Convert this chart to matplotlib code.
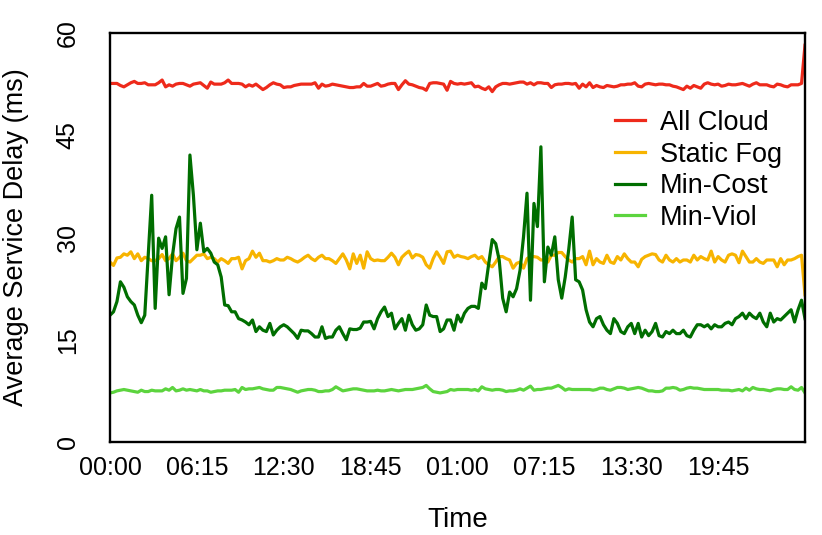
import matplotlib
matplotlib.use("Agg")
import matplotlib.pyplot as plt
import numpy as np

plt.rcParams['font.family'] = ['Liberation Sans', 'DejaVu Sans']

tick_labels = ["00:00", "06:15", "12:30", "18:45", "01:00", "07:15", "13:30", "19:45"]
tick_steps = [0, 25, 50, 75, 100, 125, 150, 175]

all_cloud = [
    52.6, 52.6, 52.6, 52.3, 52.1, 52.4, 52.7, 52.9, 52.6, 52.6,
    52.7, 52.4, 52.4, 52.4, 52.7, 53.1, 52.1, 52.4, 52.2, 52.5,
    52.6, 52.6, 52.4, 52.2, 52.5, 52.6, 52.7, 52.3, 51.9, 52.8,
    52.5, 52.5, 52.5, 52.7, 53.1, 52.6, 52.6, 52.6, 52.5, 52.1,
    52.4, 52.2, 52.5, 52.1, 51.7, 52.0, 52.4, 52.7, 52.5, 52.4,
    52.0, 52.1, 52.1, 52.3, 52.4, 52.5, 52.5, 52.5, 52.5, 52.7,
    51.9, 52.5, 52.2, 52.3, 52.5, 52.4, 52.3, 52.2, 52.1, 52.0,
    52.0, 52.1, 52.1, 52.6, 52.2, 52.2, 52.4, 52.6, 52.2, 52.3,
    52.5, 52.6, 52.6, 51.7, 52.4, 53.0, 52.5, 52.4, 52.2, 52.0,
    51.9, 51.6, 52.6, 52.7, 52.7, 52.6, 52.5, 51.6, 52.9, 52.6,
    52.5, 52.6, 52.5, 52.6, 52.7, 52.1, 52.2, 51.9, 51.7, 52.1,
    51.4, 52.1, 52.4, 52.6, 52.6, 52.5, 52.6, 52.7, 52.8, 52.8,
    52.5, 52.7, 52.4, 52.7, 52.7, 52.6, 52.6, 52.0, 52.4, 52.5,
    52.5, 52.6, 52.6, 52.5, 52.6, 51.9, 52.5, 52.1, 52.7, 52.0,
    52.3, 52.1, 52.0, 52.3, 52.2, 52.1, 52.2, 52.4, 52.4, 52.5,
    52.5, 52.7, 52.2, 52.1, 52.5, 52.6, 52.5, 52.4, 52.5, 52.5,
    52.4, 52.4, 52.2, 52.1, 51.9, 51.7, 52.2, 51.9, 52.3, 52.1,
    51.9, 52.5, 52.7, 52.5, 52.4, 52.5, 52.2, 52.3, 52.5, 52.4,
    52.4, 52.5, 52.6, 52.4, 52.2, 52.5, 52.7, 52.4, 52.4, 52.4,
    52.2, 52.1, 52.5, 52.4, 52.2, 52.1, 52.4, 52.4, 52.4, 52.6,
    58.2,
]

static_fog = [
    26.4, 25.9, 27.0, 27.1, 27.6, 27.4, 27.9, 26.9, 27.6, 26.6,
    27.1, 26.9, 26.6, 26.6, 26.9, 27.5, 26.6, 26.9, 27.6, 26.6,
    27.1, 27.7, 26.6, 26.4, 26.9, 27.4, 27.4, 27.6, 26.9, 27.1,
    26.9, 26.4, 26.9, 26.6, 26.2, 26.9, 26.9, 27.1, 25.4, 26.6,
    26.9, 28.0, 27.1, 27.7, 26.6, 26.6, 26.4, 26.6, 26.9, 26.7,
    26.7, 27.1, 26.9, 26.6, 26.4, 26.7, 27.1, 27.4, 26.9, 26.6,
    27.1, 27.4, 26.9, 26.9, 26.6, 26.2, 26.9, 27.6, 26.7, 25.4,
    27.6, 26.2, 27.4, 25.5, 27.9, 26.9, 26.6, 26.7, 26.6, 26.6,
    27.1, 27.7, 27.1, 26.0, 27.1, 27.6, 28.0, 27.0, 27.5, 27.4,
    27.1, 26.0, 25.5, 26.9, 27.9, 27.1, 26.2, 27.9, 28.0, 27.1,
    27.4, 27.2, 27.1, 26.9, 27.2, 27.4, 26.9, 27.2, 26.4, 26.0,
    25.7, 26.4, 27.2, 27.2, 26.9, 26.7, 25.5, 26.2, 26.4, 25.5,
    26.9, 27.2, 27.2, 27.1, 26.7, 26.7, 26.4, 27.4, 27.4, 27.8,
    27.8, 27.2, 26.7, 26.4, 26.9, 26.9, 27.2, 26.0, 28.0, 26.0,
    26.9, 26.4, 26.2, 27.4, 26.4, 26.2, 27.2, 26.7, 27.6, 26.9,
    26.4, 26.4, 25.7, 26.8, 27.2, 27.4, 27.6, 27.5, 26.7, 26.4,
    27.4, 26.7, 26.4, 26.9, 26.4, 26.7, 26.7, 26.4, 27.4, 26.7,
    27.2, 26.9, 26.7, 28.0, 26.4, 27.2, 26.7, 26.4, 27.4, 27.6,
    27.4, 26.3, 28.0, 27.2, 26.4, 26.4, 26.9, 26.4, 26.2, 26.7,
    26.7, 26.7, 25.7, 26.9, 26.0, 26.7, 26.7, 26.9, 27.2, 27.4,
    21.6,
]

min_cost = [
    18.6, 19.1, 20.6, 23.5, 22.7, 21.3, 20.6, 20.1, 18.6, 17.5,
    18.6, 27.4, 36.2, 19.6, 29.9, 28.4, 30.1, 21.6, 27.4, 31.3,
    33.0, 21.8, 24.0, 42.1, 36.2, 28.2, 32.1, 27.9, 28.4, 27.7,
    26.4, 26.0, 24.2, 20.1, 20.0, 19.1, 19.1, 18.1, 17.9, 17.6,
    17.2, 17.9, 16.2, 16.9, 16.4, 16.2, 17.4, 15.7, 16.4, 16.9,
    17.2, 16.9, 16.4, 15.9, 15.2, 16.4, 16.3, 16.3, 15.9, 15.4,
    15.4, 16.9, 15.2, 15.4, 15.4, 16.4, 16.9, 15.9, 15.0, 16.6,
    16.5, 16.5, 16.7, 17.6, 17.6, 17.7, 16.6, 18.1, 19.1, 19.8,
    18.4, 18.9, 16.6, 17.4, 18.1, 16.4, 18.6, 17.2, 16.4, 16.6,
    17.2, 20.1, 18.6, 18.4, 18.4, 16.2, 16.6, 17.9, 17.9, 16.4,
    18.6, 17.6, 18.9, 19.6, 19.9, 19.9, 19.6, 23.3, 22.5, 26.2,
    29.7, 29.1, 26.7, 21.1, 19.1, 22.0, 21.3, 22.5, 25.2, 30.1,
    36.5, 20.8, 35.0, 31.6, 43.3, 23.5, 28.6, 27.4, 30.1, 23.8,
    21.1, 24.2, 28.2, 33.0, 23.8, 23.5, 22.3, 19.4, 17.6, 16.9,
    18.1, 18.4, 17.2, 16.4, 15.9, 18.1, 17.4, 16.2, 15.9, 16.9,
    17.4, 15.9, 17.4, 15.4, 16.4, 15.6, 16.2, 17.4, 15.6, 15.4,
    16.2, 15.9, 16.4, 15.9, 15.9, 16.4, 15.6, 15.4, 16.4, 17.2,
    17.2, 16.9, 17.2, 16.6, 17.2, 16.9, 16.9, 17.4, 17.6, 17.2,
    18.1, 18.4, 18.9, 18.1, 18.9, 18.4, 18.1, 18.9, 17.6, 16.9,
    18.9, 17.6, 18.1, 17.9, 18.4, 18.9, 19.4, 17.6, 19.4, 20.8,
    18.1,
]

min_viol = [
    7.2, 7.3, 7.5, 7.6, 7.7, 7.6, 7.5, 7.4, 7.3, 7.6,
    7.4, 7.4, 7.6, 7.5, 7.5, 7.5, 7.8, 7.6, 8.0, 7.5,
    7.6, 7.8, 7.6, 7.7, 7.6, 7.5, 7.7, 7.5, 7.5, 7.3,
    7.4, 7.5, 7.5, 7.6, 7.6, 7.6, 7.7, 7.3, 8.0, 7.7,
    7.8, 7.8, 7.9, 8.0, 7.8, 7.7, 7.6, 7.6, 8.0, 8.0,
    7.9, 7.8, 7.7, 7.5, 7.3, 7.5, 7.6, 7.7, 7.7, 7.6,
    7.4, 7.4, 7.5, 7.5, 7.7, 8.1, 7.8, 7.5, 7.6, 7.7,
    7.8, 7.8, 7.7, 7.6, 7.5, 7.5, 7.5, 7.6, 7.5, 7.5,
    7.6, 7.7, 7.6, 7.5, 7.6, 7.7, 7.7, 7.7, 7.8, 7.9,
    8.0, 8.3, 7.8, 7.4, 7.3, 7.2, 7.3, 7.4, 7.7, 7.6,
    7.7, 7.7, 7.7, 7.7, 7.6, 7.7, 7.5, 8.1, 7.8, 7.7,
    7.6, 7.7, 7.7, 7.6, 7.4, 7.5, 7.5, 7.6, 7.8, 7.6,
    7.9, 8.2, 7.6, 7.7, 7.7, 7.8, 7.9, 7.9, 8.1, 8.3,
    8.0, 7.6, 7.8, 7.7, 7.7, 7.7, 7.7, 7.7, 7.7, 7.6,
    7.7, 7.9, 7.9, 7.7, 7.6, 7.8, 8.0, 8.0, 7.9, 7.7,
    7.8, 7.9, 8.0, 7.9, 7.7, 7.5, 7.5, 7.4, 7.4, 7.5,
    7.9, 7.9, 8.0, 7.9, 7.6, 7.7, 7.9, 8.0, 7.9, 7.9,
    7.8, 7.7, 7.7, 7.7, 7.7, 7.7, 7.6, 7.6, 7.6, 7.5,
    7.6, 7.7, 7.5, 7.9, 7.6, 8.0, 7.8, 7.7, 7.7, 7.6,
    7.5, 7.7, 7.8, 7.8, 7.7, 7.7, 8.1, 7.7, 7.6, 8.0,
    7.2,
]

series = [
    ("All Cloud", all_cloud, "#EE2A1B"),
    ("Static Fog", static_fog, "#F7B400"),
    ("Min-Cost", min_cost, "#006E00"),
    ("Min-Viol", min_viol, "#5CD43E"),
]

fig = plt.figure(figsize=(8.22, 5.35), dpi=100)
ax = fig.add_axes([110/822, 1 - 442/535, 695/822, 409/535])

for name, vals, col in series:
    x = np.arange(len(vals))
    ax.plot(x, vals, color=col, lw=2.3, label=name)

ax.set_xlim(0, 200)
ax.set_ylim(0, 60)
ax.set_xticks(tick_steps)
ax.set_xticklabels(tick_labels)
ax.set_yticks([0, 15, 30, 45, 60])
ax.tick_params(axis='both', length=0, labelsize=18)
ax.tick_params(axis='x', pad=10)
ax.tick_params(axis='y', pad=30.5)
for lab in ax.get_yticklabels():
    lab.set_rotation(90)
    lab.set_va('center')
    lab.set_ha('center')

for sp in ax.spines.values():
    sp.set_linewidth(1.7)
    sp.set_color('black')

ax.set_xlabel("Time", fontsize=20)
ax.xaxis.set_label_coords(0.5, -0.16)
ax.set_ylabel("Average Service Delay (ms)", fontsize=19.5)
ax.yaxis.label.set_va('center')
ax.yaxis.set_label_coords(-0.135, 0.5)

ax.legend(loc='upper left', bbox_to_anchor=(0.7266, 0.812), frameon=False,
          fontsize=19.5, handlelength=1.1, handletextpad=0.55, labelspacing=0.21,
          borderpad=0, borderaxespad=0)

fig.savefig("out.png", dpi=100)
